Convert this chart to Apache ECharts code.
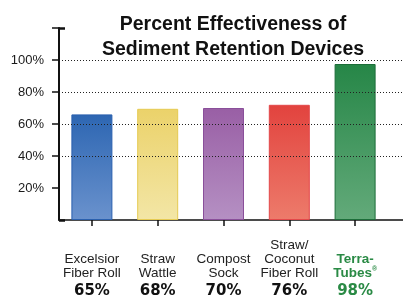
<!DOCTYPE html>
<html><head><meta charset="utf-8">
<script src="https://cdn.jsdelivr.net/npm/echarts@6/dist/echarts.min.js"></script>
<style>html,body{margin:0;padding:0;background:#fff}#c{width:403px;height:299px}</style>
</head><body><div id="c"></div>
<script>
const categories = ['Excelsior\nFiber Roll', 'Straw\nWattle', 'Compost\nSock', 'Straw/\nCoconut\nFiber Roll', 'Terra-\nTubes'];
const barValues = [66, 69.5, 70, 72, 97.5];
const labelValues = ['65%', '68%', '70%', '76%', '98%'];
const yTickLabels = [20, 40, 60, 80, 100];
const topColors = ['#2d66b2', '#ebd26a', '#995fa5', '#e2433e', '#268647'];
const bottomColors = ['#6a92cd', '#f3e6a6', '#b590c3', '#ed7b6b', '#63aa7a'];
const borderColors = ['#2a60ae', '#e6cb52', '#8a4f9a', '#e3484a', '#1d6e3a'];

const chart = echarts.init(document.getElementById('c'), null, {renderer: 'canvas'});
const FONT = '"Liberation Sans", Arial, sans-serif';

function labelFmt(value, idx) {
  const i = categories.indexOf(value);
  const lines = value.split('\n');
  const green = i === categories.length - 1;
  const n = green ? 'g' : 'n';
  const p = green ? 'gp' : 'p';
  const out = [];
  if (lines.length < 3) out.push('{' + n + '| }');
  lines.forEach((l, k) => {
    let s = '{' + n + '|' + l + '}';
    if (green && k === lines.length - 1) s += '{sup|®}';
    out.push(s);
  });
  out.push('{' + p + '|' + labelValues[i] + '}');
  return out.join('\n');
}

const option = {
  animation: false,
  title: {
    text: 'Percent Effectiveness of\nSediment Retention Devices',
    left: 232, top: 7, textAlign: 'center',
    textStyle: {fontFamily: FONT, fontSize: 19.5, fontWeight: 'bold', color: '#111', lineHeight: 25}
  },
  grid: [
    {left: 59, right: 15, top: 28, bottom: 79},
    {left: 59, right: 0, top: 28, bottom: 79}
  ],
  xAxis: [
    {
      type: 'category', gridIndex: 0, data: categories,
      axisLine: {show: false},
      axisTick: {show: true, alignWithLabel: true, length: 6, lineStyle: {color: '#111', width: 1.5}},
      axisLabel: {
        interval: 0, margin: 18, formatter: labelFmt, verticalAlign: 'top',
        rich: {
          n: {fontFamily: FONT, fontSize: 13.5, color: '#222', lineHeight: 14, align: 'center'},
          g: {fontFamily: FONT, fontSize: 13.5, color: '#2a8a45', fontWeight: 'bold', lineHeight: 14, align: 'center'},
          sup: {fontFamily: FONT, fontSize: 7, color: '#2a8a45', fontWeight: 'bold', lineHeight: 14, verticalAlign: 'top'},
          p: {fontFamily: '"DejaVu Sans", sans-serif', fontSize: 15, fontWeight: 'bold', color: '#111', lineHeight: 22, align: 'center'},
          gp: {fontFamily: '"DejaVu Sans", sans-serif', fontSize: 15, fontWeight: 'bold', color: '#2a8a45', lineHeight: 22, align: 'center'}
        }
      },
      splitLine: {show: false}
    },
    {
      type: 'value', gridIndex: 1, min: 0, max: 1,
      axisLine: {show: true, onZero: false, lineStyle: {color: '#111', width: 1.5}},
      axisTick: {show: false}, axisLabel: {show: false}, splitLine: {show: false}
    }
  ],
  yAxis: [
    {
      type: 'value', gridIndex: 0, min: 0, max: 120, interval: 120,
      axisLine: {show: false},
      axisTick: {show: true, inside: true, length: 6, lineStyle: {color: '#111', width: 2.5}},
      axisLabel: {show: false}, splitLine: {show: false}
    },
    {
      type: 'value', gridIndex: 1, min: 0, max: 120, interval: 20, z: 10,
      axisLine: {show: true, lineStyle: {color: '#111', width: 2}},
      axisTick: {show: true, length: 7, customValues: [20, 40, 60, 80, 100, 120], lineStyle: {color: '#111', width: 1.5}},
      axisLabel: {
        customValues: yTickLabels, margin: 15, formatter: v => v + '%',
        fontFamily: FONT, fontSize: 13, color: '#1a1a1a'
      },
      splitLine: {show: true, showMinLine: false, showMaxLine: false, lineStyle: {color: '#222', width: 1, type: [1, 2]}}
    }
  ],
  series: [{
    type: 'bar', xAxisIndex: 0, yAxisIndex: 0, barWidth: 41,
    data: barValues.map((v, i) => ({
      value: v,
      itemStyle: {
        color: new echarts.graphic.LinearGradient(0, 0, 0, 1, [
          {offset: 0, color: topColors[i]}, {offset: 1, color: bottomColors[i]}
        ]),
        borderColor: borderColors[i], borderWidth: 1
      }
    }))
  }]
};
option.title.left = 228;
chart.setOption(option);
</script></body></html>
